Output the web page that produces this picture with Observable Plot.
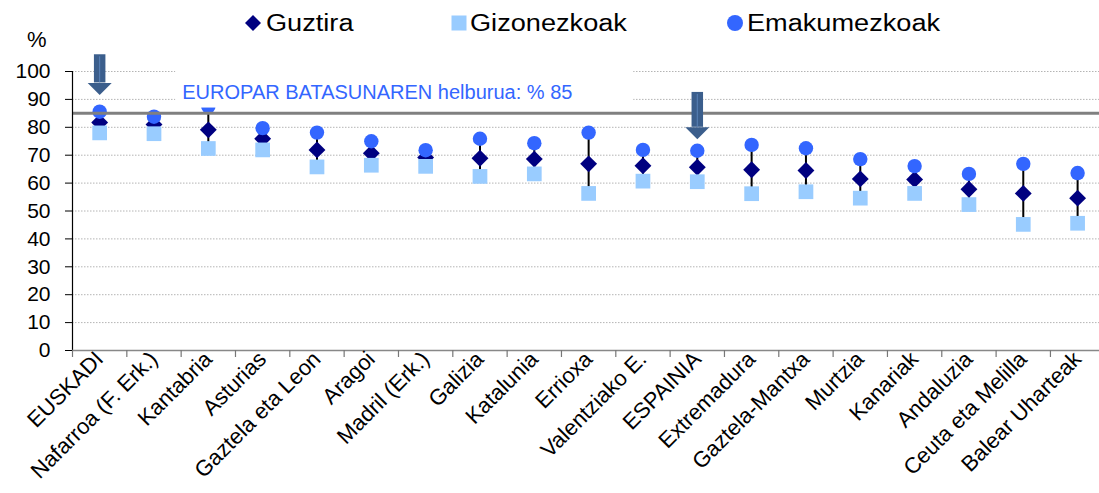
<!DOCTYPE html>
<html><head><meta charset="utf-8">
<script src="https://cdn.jsdelivr.net/npm/d3@7"></script>
<script src="https://cdn.jsdelivr.net/npm/@observablehq/plot@0.6"></script>
<style>
body{margin:0;background:#fff;font-family:"Liberation Sans",Arial,sans-serif}
#wrap{position:relative;width:1099px;height:493px;overflow:hidden;background:#fff}
.leg{position:absolute;top:9px;font-size:23px;line-height:28px;color:#000;white-space:nowrap;display:inline-block;transform:scaleX(1.18);transform-origin:left center}
.mk{position:absolute}
#pct{position:absolute;left:27px;top:27px;font-size:22px;color:#000}
</style></head><body><div id="wrap"></div>
<script>
// ---- data ----
const cats = ["EUSKADI","Nafarroa (F. Erk.)","Kantabria","Asturias","Gaztela eta Leon","Aragoi","Madril (Erk.)","Galizia","Katalunia","Errioxa","Valentziako E.","ESPAINIA","Extremadura","Gaztela-Mantxa","Murtzia","Kanariak","Andaluzia","Ceuta eta Melilla","Balear Uharteak"];
const guztira      = [81.7, 81.0, 79.1, 75.9, 71.9, 70.7, 69.2, 68.9, 68.6, 66.9, 66.2, 65.7, 64.8, 64.5, 61.5, 61.3, 57.8, 56.3, 54.6];
const gizonezkoak  = [78.0, 77.7, 72.4, 71.9, 65.8, 66.4, 66.0, 62.4, 63.3, 56.3, 60.7, 60.5, 56.2, 56.9, 54.6, 56.3, 52.3, 45.2, 45.6];
const emakumezkoak = [85.6, 83.8, 87.5, 79.7, 78.1, 75.0, 71.8, 75.9, 74.3, 78.1, 71.9, 71.6, 73.7, 72.5, 68.6, 66.1, 63.3, 66.9, 63.6];
const yTicks = [0,10,20,30,40,50,60,70,80,90,100];
const seriesNames = ["Guztira","Gizonezkoak","Emakumezkoak"];
const goal = 85;
const noteText = "EUROPAR BATASUNAREN helburua: % 85";
const arrowCats = ["EUSKADI","ESPAINIA"];
const arrowTop  = [106.0, 92.5];
const arrowBase = [95.9, 80.0];

// ---- build ----
const colors = {g:"#000080", m:"#99CCFF", w:"#3366FF"};
const rows = cats.map((c,i)=>({i, c, g:guztira[i], m:gizonezkoak[i], w:emakumezkoak[i]}));
const bounds = cats.map((_,i)=>i-0.5);
const arrows = arrowCats.map((c,k)=>({i:cats.indexOf(c), top:arrowTop[k], base:arrowBase[k]}));
const W=1099, H=493, ML=72, MT=71, MB=143, step=54.33;
const headSymbol = {draw(ctx){ ctx.moveTo(-12,0); ctx.lineTo(12,0); ctx.lineTo(0,12); ctx.closePath(); }};
const noteBox = {x1:1.4, x2:9.83, y1:86.9, y2:102};

const chart = Plot.plot({
  width:W, height:H, marginLeft:ML, marginRight:0, marginTop:MT, marginBottom:MB,
  style:{fontFamily:"'Liberation Sans', Arial, sans-serif", background:"transparent", overflow:"visible", color:"#000"},
  x:{type:"linear", domain:[-0.5, cats.length-0.5], range:[ML, ML+cats.length*step]},
  y:{domain:[0,100], range:[H-MB, MT]},
  marks:[
    Plot.ruleY(yTicks.filter(v=>v>0), {stroke:"#b4b4b4", strokeWidth:1, strokeDasharray:"1.5,1.5"}),
    Plot.ruleX(rows, {x:"i", y1:"m", y2:"w", stroke:"#000", strokeWidth:2}),
    Plot.dot(rows, {x:"i", y:"g", symbol:"diamond2", r:7.6, fill:colors.g, stroke:null}),
    Plot.dot(rows, {x:"i", y:"m", symbol:"square", r:8.3, fill:colors.m, stroke:null}),
    Plot.dot(rows, {x:"i", y:"w", symbol:"circle", r:7.2, fill:colors.w, stroke:null}),
    Plot.ruleY([goal], {stroke:"#808080", strokeWidth:3}),
    Plot.rect([noteBox], {x1:"x1", x2:"x2", y1:"y1", y2:"y2", fill:"white"}),
    Plot.text([noteText], {x:1.52, y:92.6, text:d=>d, textAnchor:"start", fill:"#3366FF", fontSize:20}),
    Plot.ruleX(arrows, {x:"i", y1:"top", y2:"base", stroke:"#3B5E8C", strokeWidth:11.5}),
    Plot.ruleX(arrows, {x:"i", y1:"top", y2:"base", stroke:"#5A82B8", strokeWidth:1, insetTop:2}),
    Plot.dot(arrows, {x:"i", y:"base", symbol:headSymbol, r:5, fill:"#3B5E8C", stroke:null}),
    Plot.ruleX([-0.5], {y1:0, y2:100, stroke:"#000", strokeWidth:1.2}),
    Plot.ruleY([0], {stroke:"#888", strokeWidth:1.5}),
    Plot.ruleX(bounds, {y1:0, y2:0, insetBottom:-7, stroke:"#777", strokeWidth:1.2}),
    Plot.axisY({ticks:yTicks, tickSize:7, tickPadding:15, fontSize:21, label:null, stroke:"#000"}),
    Plot.axisX({ticks:cats.map((_,i)=>i), tickFormat:i=>cats[i], tickRotate:-45, tickSize:0, tickPadding:5, fontSize:22, label:null})
  ]
});
const wrap = document.getElementById("wrap");
wrap.appendChild(chart);
chart.style.position="absolute"; chart.style.left="0"; chart.style.top="0";

// legend
const legendItems = [
  {name:seriesNames[0], x:244, tx:266, shape:"diamond", color:colors.g},
  {name:seriesNames[1], x:450, tx:470, shape:"square", color:colors.m},
  {name:seriesNames[2], x:726, tx:747, shape:"circle", color:colors.w}
];
for (const it of legendItems) {
  const m = document.createElementNS("http://www.w3.org/2000/svg","svg");
  m.setAttribute("width",18); m.setAttribute("height",18);
  m.setAttribute("class","mk"); m.style.left=it.x+"px"; m.style.top="14px";
  let s;
  if (it.shape==="diamond") s=`<polygon points="9,1 17,9 9,17 1,9" fill="${it.color}"/>`;
  else if (it.shape==="square") s=`<rect x="1.5" y="1.5" width="15" height="15" fill="${it.color}"/>`;
  else s=`<circle cx="9" cy="9" r="8" fill="${it.color}"/>`;
  m.innerHTML=s; wrap.appendChild(m);
  const t=document.createElement("span"); t.className="leg"; t.textContent=it.name;
  t.style.left=it.tx+"px"; wrap.appendChild(t);
}
const p=document.createElement("div"); p.id="pct"; p.textContent="%"; wrap.appendChild(p);
</script>
</body></html>
